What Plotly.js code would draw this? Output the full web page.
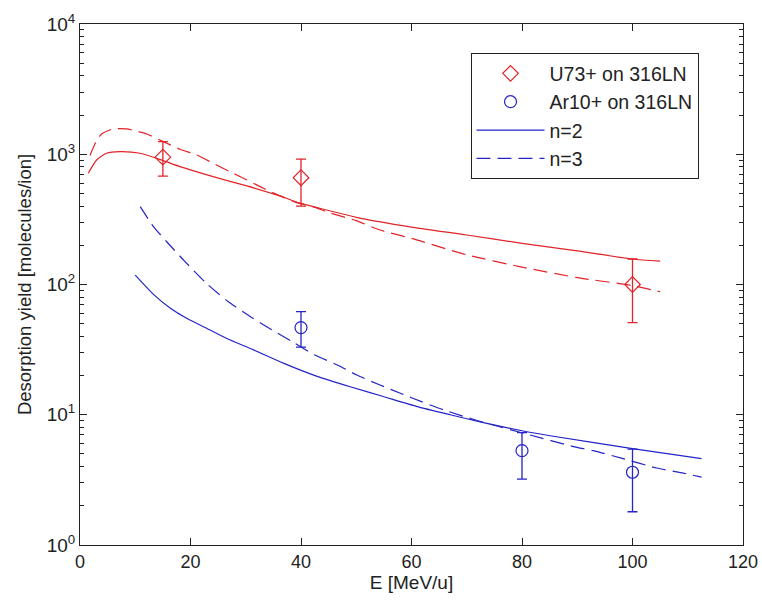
<!DOCTYPE html>
<html>
<head>
<meta charset="utf-8">
<script src="https://cdn.plot.ly/plotly-3.0.1.min.js"></script>
<style>html,body{margin:0;padding:0;background:#fff;}#chart{width:762px;height:600px;}</style>
</head>
<body>
<div id="chart"></div>
<script>
// Measured data points
var uE = [15, 40, 100];
var uY = [950, 660, 100];
var uErrPlus = [300, 257, 57];
var uErrMinus = [270, 260, 49];

var arE = [40, 80, 100];
var arY = [46.7, 5.3, 3.62];
var arErrPlus = [15.3, 2.0, 1.83];
var arErrMinus = [13.7, 2.1, 1.82];

// Model curves, U73+
var uN2x = [1.5, 3.0, 4.8, 7.2, 10.9, 15.1, 18.1, 24.1, 30.2, 36.2, 39.8, 45, 50, 60, 70, 80, 90, 100, 105];
var uN2y = [715, 904, 1018, 1048, 1018, 893, 803, 673, 571, 479, 421, 370, 328, 276, 240, 207, 181, 157, 151];
var uN3x = [1.8, 3.0, 3.9, 6.0, 8.4, 10.6, 12.1, 15.1, 18.1, 21.1, 24.1, 27.1, 30.2, 33.2, 36.2, 39.2, 42.2, 45, 50, 54.3, 60, 70, 80, 90, 100, 105];
var uN3y = [980, 1270, 1430, 1565, 1565, 1490, 1430, 1250, 1092, 988, 853, 736, 635, 548, 479, 425, 396, 357, 309, 262, 226, 169, 136, 113, 98, 88];

// Model curves, Ar10+
var arN2x = [10, 13.3, 16.3, 19.3, 22.9, 27.1, 31.4, 36.9, 42.8, 48.9, 54.9, 60.9, 67, 73, 80.2, 85.1, 100, 112.5];
var arN2y = [118, 84, 66, 55, 46.2, 37.6, 31.5, 24.8, 19.8, 16.4, 13.8, 11.6, 10.0, 8.7, 7.5, 6.9, 5.5, 4.6];
var arN3x = [10.9, 13.3, 15.7, 19, 22.9, 26.8, 30.8, 34.7, 38.6, 42.5, 46.5, 50.1, 54.3, 58.2, 61.8, 65.8, 72, 81.4, 89.3, 92.9, 98.3, 104.4, 109.2, 112.5];
var arN3y = [396, 278, 213, 150, 102, 74, 56.7, 44.9, 36, 28.8, 24.2, 20.2, 16.9, 14.5, 12.6, 10.9, 9.0, 7.0, 5.7, 5.3, 4.6, 3.9, 3.56, 3.32];

var yTickVals = [1, 10, 100, 1000, 10000];
var yTickText = ['10<sup>0</sup>', '10<sup>1</sup>', '10<sup>2</sup>', '10<sup>3</sup>', '10<sup>4</sup>'];
var yMinorVals = [];
[1, 10, 100, 1000].forEach(function (d) { for (var k = 2; k <= 9; k++) yMinorVals.push(k * d); });

var RED = 'rgb(224,36,40)';
var BLUE = 'rgb(36,36,200)';
var DASH = '14px,7px';

var traces = [
  {x: uN2x, y: uN2y, mode: 'lines', line: {color: RED, width: 1.2, shape: 'spline', smoothing: 0.6}, showlegend: false, hoverinfo: 'skip'},
  {x: uN3x, y: uN3y, mode: 'lines', line: {color: RED, width: 1.2, dash: DASH, shape: 'spline', smoothing: 0.6}, showlegend: false, hoverinfo: 'skip'},
  {x: arN2x, y: arN2y, mode: 'lines', name: 'n=2', legendrank: 3, line: {color: BLUE, width: 1.2, shape: 'spline', smoothing: 0.6}},
  {x: arN3x, y: arN3y, mode: 'lines', name: 'n=3', legendrank: 4, line: {color: BLUE, width: 1.2, dash: DASH, shape: 'spline', smoothing: 0.6}},
  {x: uE, y: uY, mode: 'markers', name: 'U73+ on 316LN', legendrank: 1,
   marker: {symbol: 'diamond-open', size: 12, color: RED, line: {width: 1.2, color: RED}},
   error_y: {type: 'data', symmetric: false, array: uErrPlus, arrayminus: uErrMinus, color: RED, thickness: 1.3, width: 5}},
  {x: arE, y: arY, mode: 'markers', name: 'Ar10+ on 316LN', legendrank: 2,
   marker: {symbol: 'circle-open', size: 12, color: BLUE, line: {width: 1.2, color: BLUE}},
   error_y: {type: 'data', symmetric: false, array: arErrPlus, arrayminus: arErrMinus, color: BLUE, thickness: 1.3, width: 5}}
];

var layout = {
  width: 762, height: 600,
  margin: {l: 80, r: 19, t: 24, b: 55},
  paper_bgcolor: '#fff', plot_bgcolor: '#fff',
  font: {family: 'Arial, Liberation Sans, sans-serif', size: 18, color: '#222'},
  showlegend: true,
  legend: {
    x: 0.589, y: 0.944, xanchor: 'left', yanchor: 'top',
    bgcolor: '#fff', bordercolor: '#222', borderwidth: 1,
    font: {size: 19.5}, itemwidth: 68, tracegroupgap: 0
  },
  xaxis: {
    type: 'linear', range: [0, 120], tickvals: [0, 20, 40, 60, 80, 100, 120],
    ticks: 'inside', ticklen: 7, tickcolor: '#222', showline: true, linecolor: '#222', linewidth: 1,
    mirror: 'ticks', showgrid: false, zeroline: false,
    tickfont: {size: 18},
    title: {text: 'E [MeV/u]', standoff: 5, font: {size: 19}}
  },
  yaxis: {
    type: 'log', range: [0, 4], tickmode: 'array', tickvals: yTickVals, ticktext: yTickText,
    ticks: 'inside', ticklen: 7, tickcolor: '#222', showline: true, linecolor: '#222', linewidth: 1,
    mirror: 'ticks', showgrid: false, zeroline: false,
    tickfont: {size: 19},
    minor: {tickmode: 'array', tickvals: yMinorVals, ticks: 'inside', ticklen: 4, tickcolor: '#222', showgrid: false},
    title: {text: 'Desorption yield [molecules/ion]', standoff: 10, font: {size: 18.5}}
  }
};

Plotly.newPlot('chart', traces, layout, {displayModeBar: false, staticPlot: true});
</script>
</body>
</html>
